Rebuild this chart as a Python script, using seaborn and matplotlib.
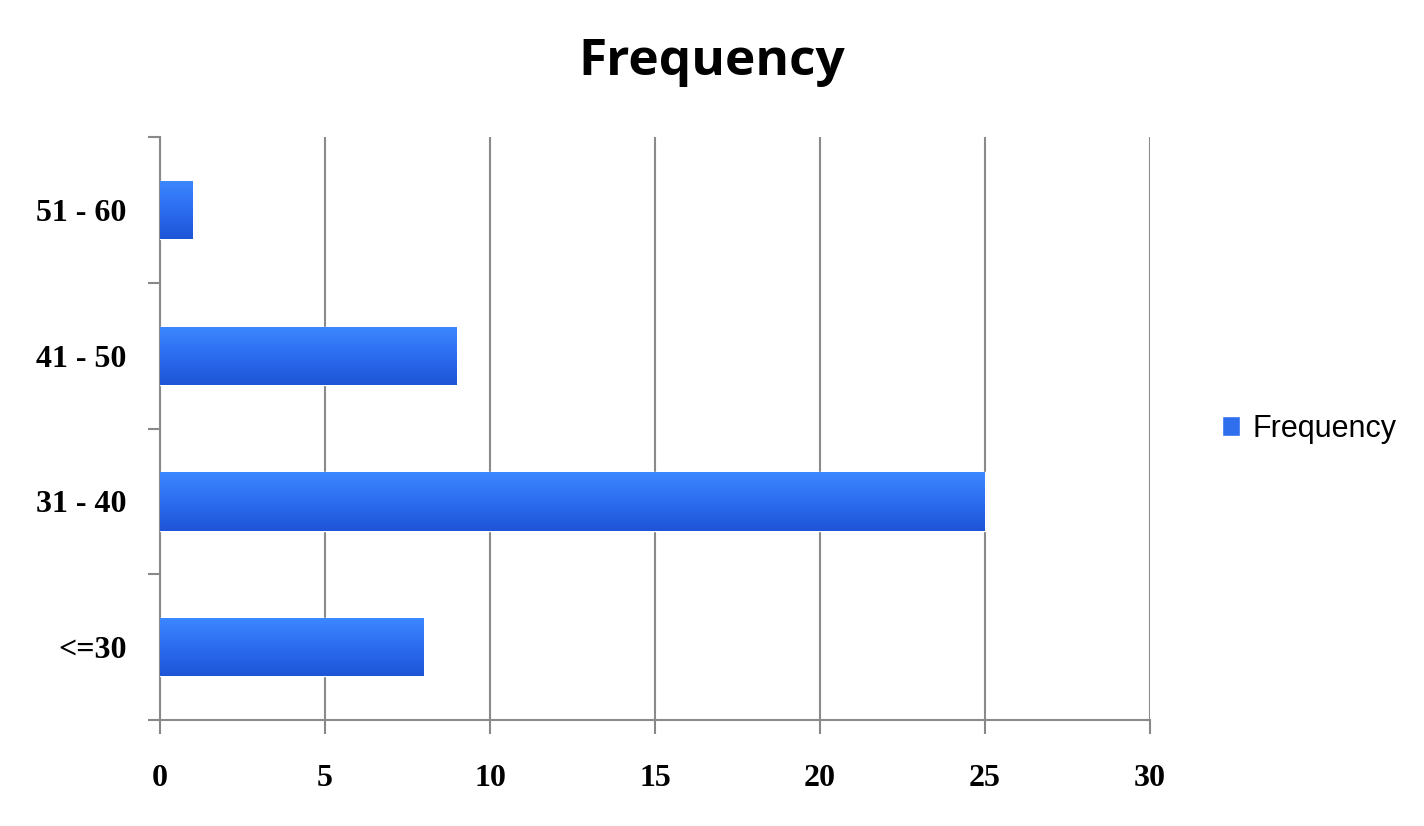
import matplotlib
matplotlib.use('Agg')
import matplotlib.pyplot as plt
import numpy as np
import pandas as pd
import seaborn as sns

# Chart data
categories = ['51 - 60', '41 - 50', '31 - 40', '<=30']
frequency = [1, 9, 25, 8]
x_ticks = [0, 5, 10, 15, 20, 25, 30]

df = pd.DataFrame({'age': categories, 'Frequency': frequency})

sns.set_style('white')
plt.rcParams['font.family'] = ['Liberation Sans', 'DejaVu Sans']
plt.rcParams['text.color'] = 'black'
plt.rcParams['xtick.labelcolor'] = 'black'
plt.rcParams['ytick.labelcolor'] = 'black'

fig = plt.figure(figsize=(14.24, 8.26), dpi=100)
ax = fig.add_axes([0.1124, 0.1283, 0.695, 0.7057])

sns.barplot(data=df, y='age', x='Frequency', order=categories,
            color='#2F6FEE', width=0.4, ax=ax, label='Frequency',
            saturation=1, zorder=3)

# vertical gradient on each bar
grad = np.linspace(0, 1, 64).reshape(-1, 1)
cmap = matplotlib.colors.LinearSegmentedColormap.from_list(
    'bar', ['#3C88FF', '#2C6CF0', '#1E55D6'])
for p in ax.patches:
    x0, y0 = p.get_x(), p.get_y()
    w, h = p.get_width(), p.get_height()
    im = ax.imshow(grad, cmap=cmap, aspect='auto', zorder=4,
                   extent=[x0, x0 + w, y0 + h, y0], origin='upper')
    im.set_clip_path(p)

ax.set_xlim(0, 30)
ax.set_ylim(3.5, -0.5)
ax.set_xticks(x_ticks)
ax.set_xticklabels([str(t) for t in x_ticks], fontfamily='Liberation Serif',
                   fontweight='bold', fontsize=23)
ax.set_yticks(range(len(categories)))
ax.set_yticklabels(categories, fontfamily='Liberation Serif',
                   fontweight='bold', fontsize=23)
ax.set_yticks(np.arange(-0.5, 4.0, 1.0), minor=True)
ax.tick_params(axis='y', which='major', length=0, pad=24)
ax.tick_params(axis='y', which='minor', length=9, width=1.5, color='#888888',
               direction='out', left=True)
ax.tick_params(axis='x', length=10, width=1.5, color='#888888',
               direction='out', bottom=True, pad=22)
ax.set_xlabel('')
ax.set_ylabel('')

ax.grid(axis='x', color='#8a8a8a', linewidth=1.5, zorder=0)
for s in ['top', 'right']:
    ax.spines[s].set_visible(False)
for s in ['left', 'bottom']:
    ax.spines[s].set_color('#8a8a8a')
    ax.spines[s].set_linewidth(1.5)

leg = ax.legend(loc='center left', bbox_to_anchor=(1.045, 0.5), frameon=False,
                fontsize=22, handlelength=0.6, handleheight=0.6,
                handletextpad=0.4)

fig.suptitle('Frequency', fontsize=37, fontweight='bold', y=0.955,
             x=0.5, fontfamily='Open Sans', color='black')

fig.savefig('out.png', dpi=100)
